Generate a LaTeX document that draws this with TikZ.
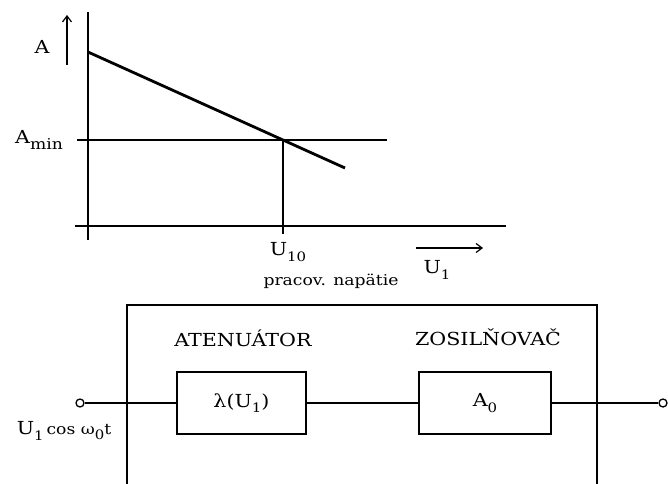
\documentclass[tikz,border=0pt]{standalone}
\usepackage{fontspec}
\setmainfont{DejaVu Serif}[FakeStretch=1.15]
\usetikzlibrary{arrows.meta}
\newcommand\lowsub[2][13]{\raisebox{-0.55ex}{\fontsize{#1}{#1}\selectfont #2}}
\begin{document}
\begin{tikzpicture}[x=1bp,y=-1bp,line width=1.4bp,
  lbl/.style={inner sep=0pt,font=\fontsize{18}{20}\selectfont},
  sml/.style={inner sep=0pt,font=\fontsize{15}{17}\selectfont},
  blk/.style={draw,line width=1.5bp,minimum width=129bp,minimum height=62bp,inner sep=0pt,font=\fontsize{18}{20}\selectfont},
  term/.style={circle,draw,line width=1.3bp,minimum size=8bp,inner sep=0pt,fill=white},
  arr/.style={-{Straight Barb[length=6bp,width=9bp,line width=1.2bp]}}]
\useasboundingbox (0,0) rectangle (668,484);
% graph
\coordinate (yb) at (88,240); \coordinate (yt) at (88,12);
\coordinate (xl) at (75,226); \coordinate (xr) at (506,226);
\coordinate (ml) at (77,140); \coordinate (mr) at (387,140);
\coordinate (s1) at (88,52); \coordinate (s2) at (345,168);
\coordinate (op) at (283,140); \coordinate (ob) at (283,234);
\coordinate (aa) at (67,65); \coordinate (ab) at (67,15);
\coordinate (ua) at (416,248); \coordinate (ub) at (483,248);
\draw (yb) -- (yt);
\draw (xl) -- (xr);
\draw (ml) -- (mr);
\draw[line width=2.8bp] (s1) -- (s2);
\draw (op) -- (ob);
\draw[arr] (aa) -- (ab);
\draw[arr] (ua) -- (ub);
\node[lbl] (la) at (42,47) {A};
\node[lbl] (lmin) at (39,140) {A\lowsub[15]{min}};
\node[lbl] (u10) at (288,252) {U\lowsub{10}};
\node[sml] (prac) at (331,281) {pracov. napätie};
\node[lbl] (lu1) at (437,270) {U\lowsub{1}};
% block diagram
\coordinate (bl) at (127,484); \coordinate (tr) at (597,305); \coordinate (br) at (597,484);
\draw[line width=1.5bp] (bl) |- (tr) -- (br);
\node[lbl] (latt) at (243,338) {ATENUÁTOR};
\node[lbl] (lzos) at (488,337) {ZOSILŇOVAČ};
\node[blk] (att) at (241.5,403) {λ(U\lowsub{1})};
\node[blk,minimum width=132bp] (amp) at (485,403) {A\lowsub{0}\hspace{26bp}};
\node[term] (tin) at (80,403) {};
\node[term] (tout) at (663,403) {};
\draw (tin) -- (att);
\draw (att) -- (amp);
\draw (amp) -- (tout);
\node[lbl] (lin) at (64,431) {U\lowsub{1}\,{\fontsize{15}{17}\selectfont cos ω\lowsub{0}t}};
\end{tikzpicture}
\end{document}
